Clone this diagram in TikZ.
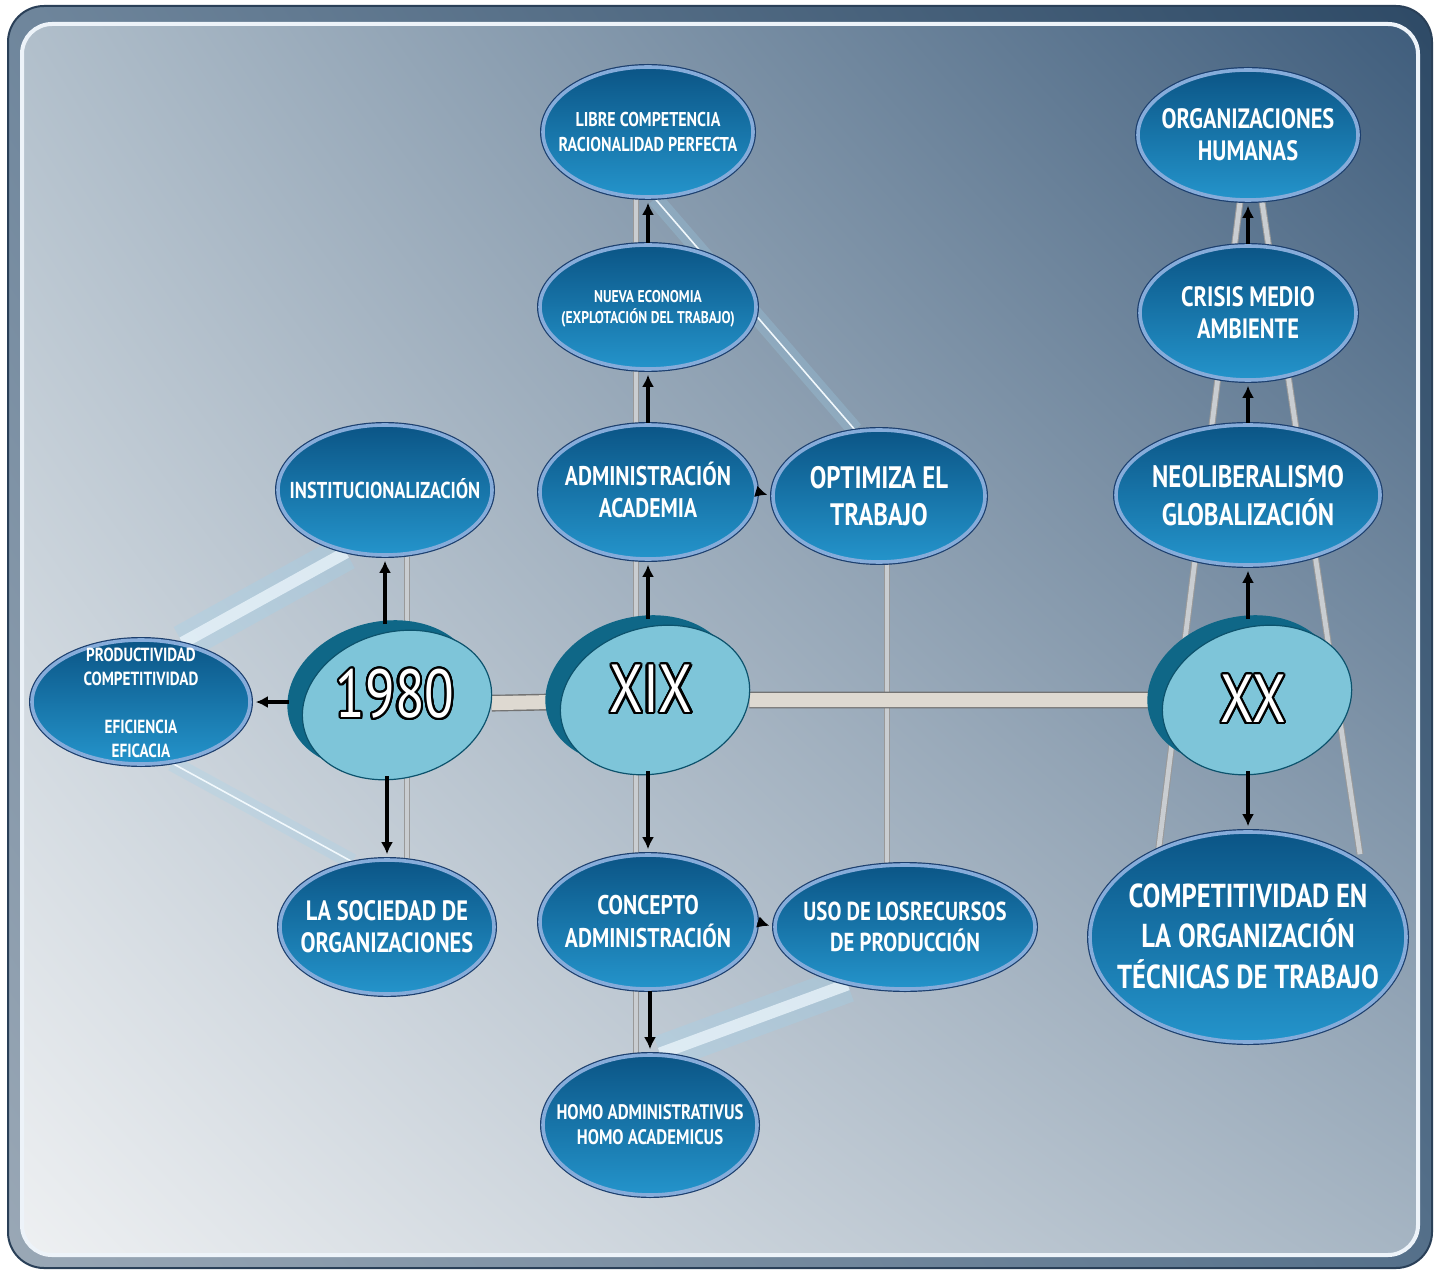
\documentclass[tikz,border=0pt]{standalone}
\usepackage{fontspec}
\setmainfont{PT Sans}[FakeStretch=0.8]
\usepackage{contour}
\usetikzlibrary{arrows.meta,shapes.geometric,shadings}
\contourlength{1.1pt}
\contournumber{24}
\definecolor{ovTop}{HTML}{0B5586}
\definecolor{ovBot}{HTML}{2494CB}
\definecolor{ovRim}{HTML}{86ACDA}
\definecolor{ovEdge}{HTML}{1C3F6E}
\definecolor{diskFace}{HTML}{7EC5D9}
\definecolor{diskSide}{HTML}{0F6787}
\definecolor{railGray}{HTML}{C9CDD1}
\definecolor{barFill}{HTML}{DED9D1}
\definecolor{glowBlue}{HTML}{9FD3EE}
\definecolor{frUL}{HTML}{6F869C}
\definecolor{frUR}{HTML}{2E4A66}
\definecolor{frLL}{HTML}{9AA8B6}
\definecolor{frLR}{HTML}{55708A}
\definecolor{frEdge}{HTML}{2A4058}
\definecolor{bgUL}{HTML}{B1BFCB}
\definecolor{bgUR}{HTML}{3F5D7C}
\definecolor{bgLL}{HTML}{EEF0F2}
\definecolor{bgLR}{HTML}{A6B5C3}
\newcommand{\ovtxt}[3]{\makebox[0pt]{\fontsize{#1}{#2}\selectfont\bfseries\raisebox{-0.36em}[0pt][0pt]{\begin{tabular}{@{}c@{}}#3\end{tabular}}}}
\pgfdeclarelayer{bg}
\pgfsetlayers{bg,main}

\begin{document}
\begin{tikzpicture}[x=0.5pt,y=-0.5pt,
  ov/.style 2 args={ellipse, inner sep=0pt, text=white, top color=ovTop, bottom color=ovBot,
    draw=ovRim, line width=1.8pt, preaction={draw=ovEdge, line width=3pt},
    minimum width=#1*0.5pt, minimum height=#2*0.5pt},
  diskside/.style={ellipse, inner sep=0pt, fill=diskSide, rotate=15, minimum width=96pt, minimum height=73pt},
  diskface/.style={ellipse, inner sep=0pt, fill=diskFace, draw=diskSide!80!black, line width=0.6pt, rotate=15, minimum width=96pt, minimum height=73pt},
  disktext/.style={inner sep=0pt, text=white, font=\fontsize{34}{34}\selectfont},
  arr/.style={-{Latex[length=6pt,width=6pt]}, line width=1.8pt, shorten >=2pt},
  rail/.style={draw=black!40, double=railGray, double distance=2.4pt, line width=0.5pt},
  thinrail/.style={draw=white!85!glowBlue, line width=0.8pt, preaction={draw=glowBlue, line width=8pt, opacity=0.25}},
  stripe/.style={draw=white!80!glowBlue, line width=6pt, opacity=0.75, preaction={draw=glowBlue, line width=18pt, opacity=0.3}},
  bar/.style={draw=black!55, double=barFill, double distance=7pt, line width=0.7pt}]
\useasboundingbox (0,0) rectangle (1439,1272);
\begin{pgfonlayer}{bg}
\fill[white] (0,0) rectangle (1439,1272);
\shade[rounded corners=18pt, upper left=frUL, upper right=frUR, lower left=frLL, lower right=frLR] (8,6) rectangle (1432,1268);
\draw[line width=1pt, frEdge, rounded corners=18pt] (8,6) rectangle (1432,1268);
\shade[rounded corners=15pt, upper left=bgUL, upper right=bgUR, lower left=bgLL, lower right=bgLR] (22,24) rectangle (1418,1255);
\draw[line width=2pt, white!85!ovRim, rounded corners=15pt] (22,24) rectangle (1418,1255);
\end{pgfonlayer}

\node[ov={210}{130}] (lib) at (648,132) {\ovtxt{10}{12.5}{LIBRE COMPETENCIA\\RACIONALIDAD PERFECTA}};
\node[ov={216}{124}] (nue) at (648,307) {\ovtxt{8.5}{10.5}{NUEVA ECONOMIA\\(EXPLOTACIÓN DEL TRABAJO)}};
\node[ov={216}{134}] (adm) at (648,492) {\ovtxt{13.5}{16}{ADMINISTRACIÓN\\ACADEMIA}};
\node[ov={212}{132}] (opt) at (879,496) {\ovtxt{15.5}{18.5}{OPTIMIZA EL\\TRABAJO}};
\node[ov={214}{130}] (inst) at (385,490) {\ovtxt{11.5}{13}{INSTITUCIONALIZACIÓN}};
\node[ov={218}{124}] (prod) at (141,702) {\ovtxt{9.5}{12}{PRODUCTIVIDAD\\COMPETITIVIDAD\\ \\EFICIENCIA\\EFICACIA}};
\node[ov={214}{134}] (soc) at (387,927) {\ovtxt{14}{16}{LA SOCIEDAD DE\\ORGANIZACIONES}};
\node[ov={216}{134}] (conc) at (648,922) {\ovtxt{13.5}{16}{CONCEPTO\\ADMINISTRACIÓN}};
\node[ov={260}{124}] (uso) at (905,927) {\ovtxt{13}{14.5}{USO DE LOSRECURSOS\\DE PRODUCCIÓN}};
\node[ov={214}{140}] (homo) at (650,1125) {\ovtxt{10.5}{12.5}{HOMO ADMINISTRATIVUS\\HOMO ACADEMICUS}};
\node[ov={220}{130}] (org) at (1248,135) {\ovtxt{14}{16}{ORGANIZACIONES\\HUMANAS}};
\node[ov={216}{134}] (cris) at (1248,313) {\ovtxt{14}{16}{CRISIS MEDIO\\AMBIENTE}};
\node[ov={264}{140}] (neo) at (1248,495) {\ovtxt{15.5}{18}{NEOLIBERALISMO\\GLOBALIZACIÓN}};
\node[ov={316}{210}] (comp) at (1248,937) {\ovtxt{16.6}{19}{COMPETITIVIDAD EN\\LA ORGANIZACIÓN\\TÉCNICAS DE TRABAJO}};

\node[diskside] (s1980) at (382,695) {};
\node[diskface] (d1980) at (397,705) {};
\node[disktext] (t1980) at (395,695) {\contour{black}{1980}};
\node[diskside] (sXIX) at (640,690) {};
\node[diskface] (dXIX) at (655,700) {};
\node[disktext] (tXIX) at (651,690) {\contour{black}{XIX}};
\node[diskside] (sXX) at (1242,690) {};
\node[diskface] (dXX) at (1257,700) {};
\node[disktext] (tXX) at (1253,700) {\contour{black}{XX}};

\begin{pgfonlayer}{bg}
\draw[stripe] (prod.55) -- (inst.238);
\draw[stripe] (homo.82) -- (uso.225);
\draw[thinrail] (prod.297) -- (soc.118);
\draw[thinrail] (lib.276) -- (opt.110);
\draw[rail] ([xshift=11pt]inst.south) -- ([xshift=11pt]inst.south |- soc.north);
\draw[rail] ([xshift=-6pt]lib.south) -- ([xshift=-6pt]lib.south |- homo.north);
\draw[rail] ([xshift=4pt]opt.south) -- ([xshift=4pt]opt.south |- uso.north);
\draw[rail] ([xshift=-4pt]org.south) -- ([xshift=-45pt,yshift=-12pt]comp.north);
\draw[rail] ([xshift=7pt]org.south) -- ([xshift=56pt,yshift=-12pt]comp.north);
\draw[bar] (d1980) -- (dXIX);
\draw[bar] (dXIX) -- (dXX);
\end{pgfonlayer}

\draw[arr] (prod.east -| s1980.west) -- (prod.east);
\draw[arr] (inst.south |- s1980.north) -- (inst.south);
\draw[arr] (soc.north |- d1980.south) -- (soc.north);
\draw[arr] (adm.south |- sXIX.north) -- (adm.south);
\draw[arr] (conc.north |- dXIX.south) -- (conc.north);
\draw[arr] (adm.north) -- (nue.south);
\draw[arr] (nue.north) -- (lib.south);
\draw[arr] (adm.east) -- (opt.west);
\draw[arr] (conc.east) -- (uso.west);
\draw[arr] (homo.north |- conc.south) -- (homo.north);
\draw[arr] (neo.south |- sXX.north) -- (neo.south);
\draw[arr] (comp.north |- dXX.south) -- (comp.north);
\draw[arr] (neo.north) -- (cris.south);
\draw[arr] (cris.north) -- (org.south);
\end{tikzpicture}
\end{document}
